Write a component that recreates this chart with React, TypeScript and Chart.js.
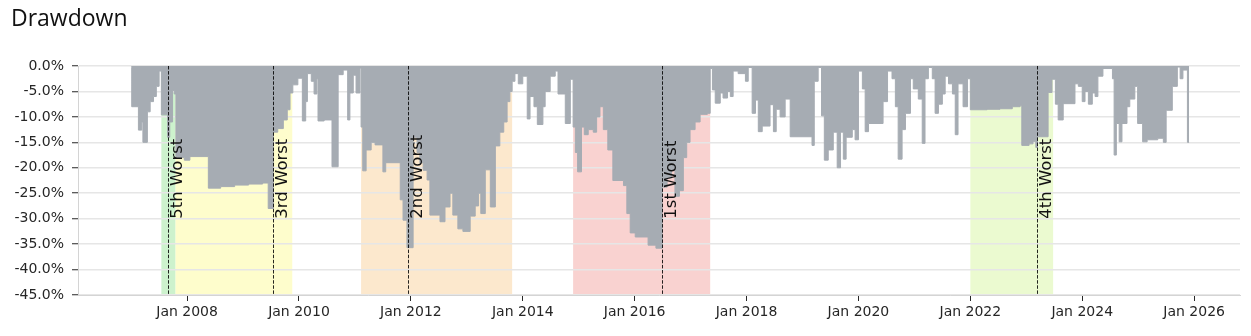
import React, { useEffect, useRef } from "react";
import { Chart, registerables } from "chart.js";

Chart.register(...registerables);

// Drawdown series: decimal year -> drawdown in %
const ddDates: number[] = [
  2007.00, 2007.01, 2007.13, 2007.19, 2007.21, 2007.29, 2007.34, 2007.40, 2007.45, 2007.50,
  2007.54, 2007.65, 2007.69, 2007.74, 2007.77, 2007.80, 2007.95, 2008.05, 2008.38, 2008.60,
  2008.85, 2009.10, 2009.35, 2009.45, 2009.54, 2009.62, 2009.72, 2009.79, 2009.84, 2009.89,
  2009.98, 2010.06, 2010.12, 2010.15, 2010.22, 2010.27, 2010.32, 2010.34, 2010.45, 2010.59,
  2010.70, 2010.79, 2010.87, 2010.91, 2010.97, 2011.02, 2011.09, 2011.11, 2011.14, 2011.20,
  2011.29, 2011.36, 2011.50, 2011.55, 2011.81, 2011.86, 2011.93, 2012.04, 2012.11, 2012.16,
  2012.22, 2012.29, 2012.34, 2012.52, 2012.61, 2012.70, 2012.75, 2012.84, 2012.93, 2013.06,
  2013.15, 2013.21, 2013.25, 2013.33, 2013.42, 2013.51, 2013.59, 2013.66, 2013.72, 2013.77,
  2013.81, 2013.86, 2013.92, 2014.00, 2014.08, 2014.13, 2014.20, 2014.26, 2014.36, 2014.40,
  2014.49, 2014.58, 2014.63, 2014.76, 2014.85, 2014.90, 2014.94, 2014.98, 2015.05, 2015.10,
  2015.17, 2015.26, 2015.32, 2015.38, 2015.44, 2015.52, 2015.61, 2015.80, 2015.86, 2015.92,
  2016.01, 2016.24, 2016.38, 2016.49, 2016.58, 2016.66, 2016.72, 2016.80, 2016.87, 2016.93,
  2016.99, 2017.08, 2017.17, 2017.30, 2017.35, 2017.39, 2017.44, 2017.53, 2017.58, 2017.66,
  2017.71, 2017.76, 2017.85, 2017.98, 2018.03, 2018.10, 2018.16, 2018.21, 2018.28, 2018.42,
  2018.48, 2018.53, 2018.60, 2018.69, 2018.78, 2019.17, 2019.21, 2019.28, 2019.34, 2019.39,
  2019.46, 2019.55, 2019.62, 2019.68, 2019.73, 2019.78, 2019.89, 2019.94, 2020.00, 2020.07,
  2020.12, 2020.18, 2020.44, 2020.52, 2020.60, 2020.66, 2020.71, 2020.78, 2020.84, 2020.93,
  2020.98, 2021.07, 2021.14, 2021.19, 2021.25, 2021.32, 2021.37, 2021.43, 2021.50, 2021.55,
  2021.61, 2021.68, 2021.73, 2021.78, 2021.87, 2021.95, 2022.00, 2022.30, 2022.53, 2022.75,
  2022.89, 2022.92, 2023.05, 2023.12, 2023.17, 2023.20, 2023.39, 2023.46, 2023.52, 2023.57,
  2023.66, 2023.87, 2023.93, 2024.00, 2024.05, 2024.11, 2024.18, 2024.23, 2024.28, 2024.37,
  2024.54, 2024.57, 2024.61, 2024.66, 2024.71, 2024.80, 2024.85, 2024.94, 2024.99, 2025.08,
  2025.16, 2025.35, 2025.45, 2025.50, 2025.61, 2025.70, 2025.75, 2025.80, 2025.88, 2025.91,
];

const ddValues: number[] = [
  -0.5, -8.0, -12.6, -11.0, -15.0, -9.0, -7.0, -6.0, -4.0, -1.0,
  -9.6, -14.0, -11.0, -4.8, -5.5, -18.0, -18.5, -17.8, -24.0, -23.7,
  -23.4, -23.2, -23.0, -28.0, -13.0, -12.3, -10.6, -8.6, -5.3, -3.7,
  -2.4, -10.8, -7.0, -1.5, -3.0, -5.5, -2.5, -10.8, -10.6, -19.8,
  -1.7, -0.8, -10.6, -5.3, -1.8, -5.3, -0.4, -12.0, -20.6, -16.5,
  -15.0, -15.5, -20.8, -19.0, -26.3, -30.3, -35.7, -14.0, -17.0, -19.0,
  -20.5, -22.4, -29.3, -30.6, -27.7, -25.0, -29.3, -32.0, -32.5, -29.5,
  -27.5, -25.0, -29.0, -20.4, -27.7, -15.7, -13.0, -11.0, -7.0, -5.0,
  -3.0, -1.5, -3.5, -2.0, -10.4, -6.0, -8.0, -11.5, -8.0, -5.0,
  -2.0, -1.0, -5.5, -11.3, -2.6, -12.0, -17.0, -20.8, -12.0, -13.5,
  -12.5, -13.0, -10.0, -8.0, -12.5, -16.5, -22.5, -23.5, -29.0, -32.8,
  -33.6, -35.2, -35.8, -23.8, -22.0, -20.5, -25.6, -24.5, -18.0, -15.0,
  -12.5, -11.0, -9.5, -9.3, -0.5, -4.7, -7.3, -5.3, -6.3, -5.0,
  -6.0, -1.0, -1.5, -3.0, -0.3, -9.3, -6.7, -12.9, -11.8, -7.6,
  -12.9, -8.5, -10.0, -6.5, -13.9, -15.6, -3.0, -0.3, -9.8, -18.5,
  -16.5, -13.0, -20.0, -13.0, -18.3, -14.0, -12.5, -14.5, -1.0, -4.5,
  -12.9, -11.3, -7.0, -1.0, -2.5, -8.0, -18.3, -12.5, -9.3, -2.5,
  -4.5, -6.5, -15.2, -2.5, -0.3, -2.5, -9.3, -7.5, -5.5, -2.0,
  -3.5, -5.5, -13.5, -3.5, -8.0, -2.5, -8.6, -8.5, -8.4, -8.0,
  -7.8, -15.6, -15.3, -14.8, -16.0, -13.9, -5.2, -2.6, -7.5, -10.6,
  -7.4, -3.5, -4.0, -7.0, -5.0, -7.5, -5.3, -6.0, -2.0, -0.5,
  -2.5, -17.5, -11.3, -14.9, -11.3, -8.0, -6.5, -4.0, -11.3, -14.9,
  -14.5, -14.2, -15.0, -8.7, -4.0, -0.2, -2.5, -0.8, -15.0, -15.0,
];

// Worst drawdown periods
const periodLabels = ["1st Worst", "2nd Worst", "3rd Worst", "4th Worst", "5th Worst"];
const periodStarts = [2014.90, 2011.11, 2007.79, 2022.00, 2007.54];
const periodEnds = [2017.35, 2013.81, 2009.88, 2023.48, 2007.79];
const periodValleys = [2016.49, 2011.95, 2009.54, 2023.19, 2007.66];
const labelAnchorValue = -30;

const yTickValues = [0, -5, -10, -15, -20, -25, -30, -35, -40, -45];
const xTickYears = [2008, 2010, 2012, 2014, 2016, 2018, 2020, 2022, 2024, 2026];

const spanColors = ["#f9d2d0", "#fce8cd", "#fefdcc", "#ebfad0", "#cdf2cd"];
const FONT = "'DejaVu Sans', sans-serif";

export default function App() {
  const ref = useRef<HTMLCanvasElement>(null);

  useEffect(() => {
    if (!ref.current) return;

    const decorPlugin = {
      id: "decor",
      beforeDraw(chart: any) {
        const { ctx, chartArea, scales } = chart;
        const xs = scales.x;
        ctx.save();
        periodStarts.forEach((s, i) => {
          const x0 = xs.getPixelForValue(s);
          const x1 = xs.getPixelForValue(periodEnds[i]);
          ctx.fillStyle = spanColors[i];
          ctx.fillRect(x0, chartArea.top, x1 - x0, chartArea.bottom - chartArea.top);
        });
        ctx.restore();
      },
      afterDatasetsDraw(chart: any) {
        const { ctx, chartArea, scales } = chart;
        const xs = scales.x;
        const ys = scales.y;
        ctx.save();
        periodValleys.forEach((v, i) => {
          const px = Math.round(xs.getPixelForValue(v)) + 0.5;
          ctx.beginPath();
          ctx.setLineDash([3.5, 1.6]);
          ctx.strokeStyle = "rgba(0,0,0,0.85)";
          ctx.lineWidth = 1;
          ctx.moveTo(px, chartArea.top);
          ctx.lineTo(px, chartArea.bottom);
          ctx.stroke();
          ctx.setLineDash([]);
          ctx.save();
          ctx.translate(px + 13.5, ys.getPixelForValue(labelAnchorValue));
          ctx.rotate(-Math.PI / 2);
          ctx.font = `16.5px ${FONT}`;
          ctx.fillStyle = "#111";
          ctx.textAlign = "left";
          ctx.textBaseline = "alphabetic";
          ctx.fillText(periodLabels[i], 0, 0);
          ctx.restore();
        });
        ctx.restore();
      },
    };

    const chart = new Chart(ref.current, {
      type: "line",
      data: {
        datasets: [
          {
            data: ddDates.map((d, i) => ({ x: d, y: ddValues[i] })),
            stepped: true,
            fill: "origin",
            backgroundColor: "#a6acb3",
            borderColor: "#a6acb3",
            borderWidth: 1,
            pointRadius: 0,
          },
        ],
      },
      options: {
        animation: false,
        responsive: false,
        maintainAspectRatio: false,
        layout: { padding: { top: 66, right: 11, left: 0, bottom: 0 } },
        plugins: { legend: { display: false }, tooltip: { enabled: false }, title: { display: false } },
        scales: {
          x: {
            type: "linear",
            min: 2006.05,
            max: 2026.82,
            afterBuildTicks: (s: any) => {
              s.ticks = xTickYears.map((v) => ({ value: v }));
            },
            afterFit: (s: any) => {
              s.height = 41;
            },
            ticks: {
              autoSkip: false,
              maxRotation: 0,
              padding: 3,
              color: "#262626",
              font: { family: FONT, size: 14 },
              callback: (v: any) => "Jan " + v,
            },
            grid: {
              display: true,
              drawOnChartArea: false,
              drawTicks: true,
              tickLength: 6,
              tickColor: "#262626",
              tickWidth: 1,
            },
            border: { display: true, color: "#d4d4d4", width: 1 },
          },
          y: {
            min: -45,
            max: 0,
            afterBuildTicks: (s: any) => {
              s.ticks = yTickValues.map((v) => ({ value: v }));
            },
            afterFit: (s: any) => {
              s.width = 78;
            },
            ticks: {
              padding: 8,
              color: "#262626",
              font: { family: FONT, size: 14 },
              callback: (v: any) => Number(v).toFixed(1) + "%",
            },
            grid: {
              color: "#e6e6e6",
              lineWidth: 1.5,
              drawTicks: true,
              tickLength: 6,
              tickColor: "#262626",
              tickWidth: 1,
            },
            border: { display: true, color: "#d4d4d4", width: 1 },
          },
        },
      },
      plugins: [decorPlugin],
    });

    return () => chart.destroy();
  }, []);

  return (
    <div style={{ position: "absolute", left: 0, top: 0, width: 1251, height: 336, background: "#fff" }}>
      <div
        style={{
          position: "absolute",
          left: 11,
          top: 6,
          fontFamily: "'Open Sans', sans-serif",
          fontSize: 23,
          lineHeight: "23px",
          color: "#111",
          whiteSpace: "nowrap",
        }}
      >
        Drawdown
      </div>
      <canvas ref={ref} width={1251} height={336} style={{ display: "block", width: 1251, height: 336 }} />
    </div>
  );
}
